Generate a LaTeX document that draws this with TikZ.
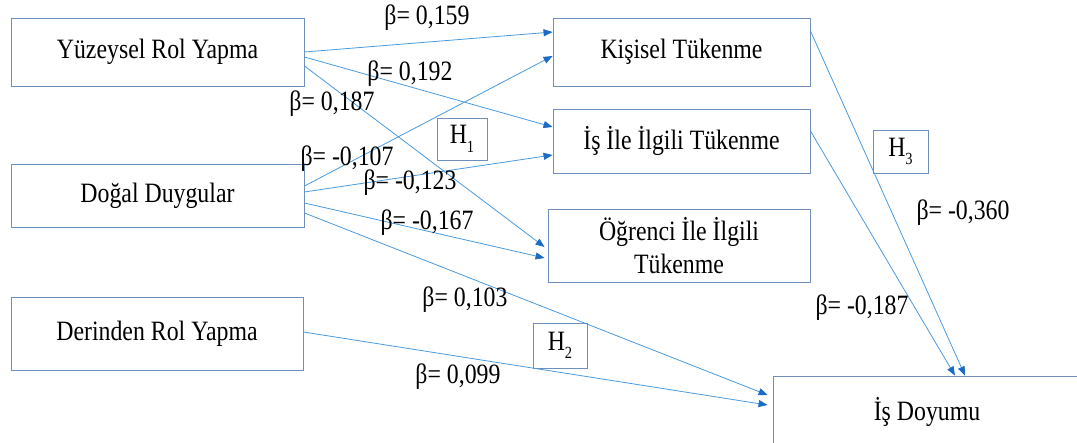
\documentclass[tikz,border=0pt]{standalone}
\usepackage{fontspec}
\usepackage{graphicx}
\setmainfont{Liberation Serif}
\usetikzlibrary{arrows.meta}
\definecolor{boxc}{HTML}{7090BC}
\definecolor{linec}{HTML}{4A9BDE}
\definecolor{headc}{HTML}{1B6CC6}
\newcommand{\sxt}[1]{\scalebox{0.85}[1]{#1}}
\newcommand{\hsub}[1]{H\raisebox{-0.3em}{\fontsize{17}{17}\selectfont #1}}
\begin{document}
\begin{tikzpicture}[x=1pt,y=-1pt,
  box/.style={draw=boxc,line width=0.9pt,inner sep=0pt,align=center,
    font=\fontsize{28}{33}\selectfont},
  hbox/.style={draw=boxc,line width=0.9pt,inner sep=0pt,
    font=\fontsize{28}{33}\selectfont},
  lbl/.style={inner sep=0pt,font=\fontsize{28}{33}\selectfont},
  conn/.style={draw=linec,line width=0.8pt,-{Triangle[length=9pt,width=7pt,color=headc]}}]
\useasboundingbox[fill=white] (0,0) rectangle (1077,443);
\clip (0,0) rectangle (1077,443);
% left boxes
\node[box,minimum width=293pt,minimum height=68pt] (yuz) at (157.5,52) {\sxt{Yüzeysel Rol Yapma}};
\node[box,minimum width=293pt,minimum height=63pt] (dogal) at (157.5,195.5) {\sxt{Doğal Duygular}};
\node[box,minimum width=292pt,minimum height=73pt] (der) at (157,333.5) {\sxt{Derinden Rol Yapma}};
% right boxes
\node[box,minimum width=257pt,minimum height=68pt] (kis) at (681.5,52) {\sxt{Kişisel Tükenme}};
\node[box,minimum width=257pt,minimum height=64pt] (isile) at (681.5,141) {\sxt{İş İle İlgili Tükenme}};
\node[box,minimum width=262pt,minimum height=73pt] (ogr) at (679,245.5) {\sxt{Öğrenci İle İlgili}\\\sxt{Tükenme}};
\node[box,minimum width=308pt,minimum height=72pt] (doy) at (927,412) {\sxt{İş Doyumu}};
% hypothesis boxes
\node[hbox,minimum width=50pt,minimum height=42pt] (h1) at (462,139) {\sxt{\hsub{1}}};
\node[hbox,minimum width=54pt,minimum height=45pt] (h2) at (560,345.5) {\sxt{\hsub{2}}};
\node[hbox,minimum width=55pt,minimum height=43pt] (h3) at (900.5,151.5) {\sxt{\hsub{3}}};
% connectors
\draw[conn] (yuz.east) -- ([yshift=20pt]kis.west);
\draw[conn] ([yshift=-5pt]yuz.east) -- ([yshift=14pt]isile.west);
\draw[conn] ([yshift=-14pt]yuz.east) -- ([xshift=-3pt,yshift=-1.5pt]ogr.west);
\draw[conn] ([yshift=9.5pt]dogal.east) -- ([yshift=-4pt]kis.west);
\draw[conn] ([yshift=3.5pt]dogal.east) -- ([yshift=-14pt]isile.west);
\draw[conn] ([yshift=-7.5pt]dogal.east) -- ([xshift=-3pt,yshift=-12.5pt]ogr.west);
\draw[conn] ([yshift=-17.5pt]dogal.east) -- ([xshift=-5pt,yshift=17pt]doy.west);
\draw[conn] ([yshift=1.5pt]der.east) -- ([xshift=-5pt,yshift=7pt]doy.west);
\draw[conn] ([yshift=21pt]kis.east) -- ([xshift=38pt]doy.north);
\draw[conn] ([yshift=10pt]isile.east) -- ([xshift=28pt]doy.north);
% labels
\node[lbl] (l1) at (427,18) {\sxt{β= 0,159}};
\node[lbl] (l2) at (410,74) {\sxt{β= 0,192}};
\node[lbl] (l3) at (332,104) {\sxt{β= 0,187}};
\node[lbl] (l4) at (347,159) {\sxt{β= -0,107}};
\node[lbl] (l5) at (410,183) {\sxt{β= -0,123}};
\node[lbl] (l6) at (427,223) {\sxt{β= -0,167}};
\node[lbl] (l7) at (465,300) {\sxt{β= 0,103}};
\node[lbl] (l8) at (458,377) {\sxt{β= 0,099}};
\node[lbl] (l9) at (862,308) {\sxt{β= -0,187}};
\node[lbl] (l10) at (963,213) {\sxt{β= -0,360}};
\end{tikzpicture}
\end{document}
